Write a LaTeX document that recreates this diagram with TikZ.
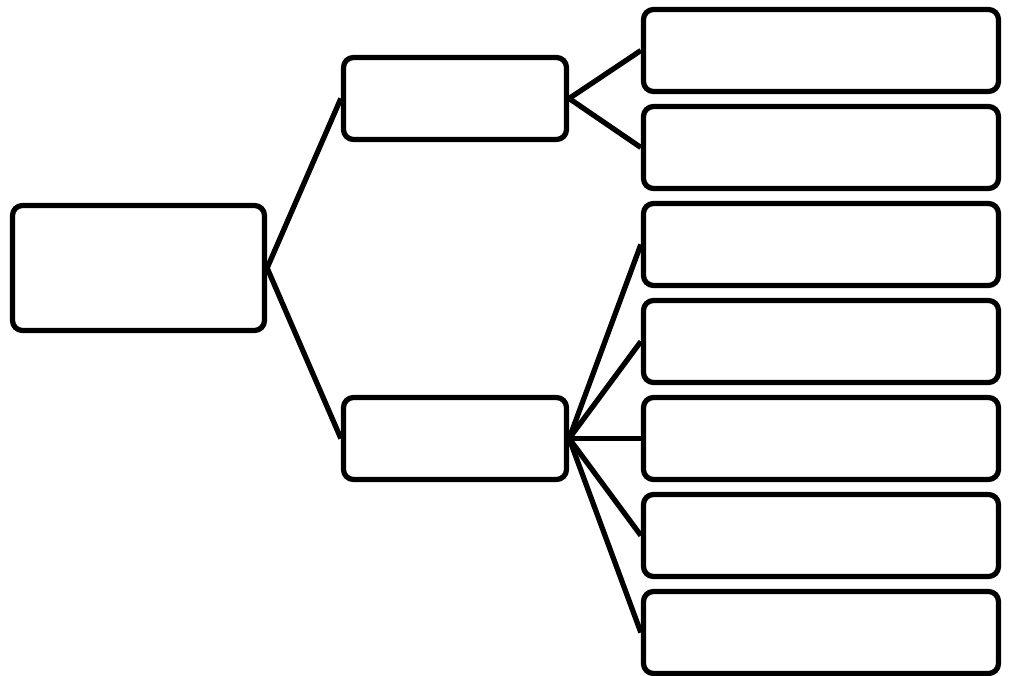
\documentclass[tikz,border=0pt]{standalone}
\begin{document}
\begin{tikzpicture}[
  scale=1.0,
  box/.style={draw,rounded corners=0.2cm,line width=3pt,inner sep=0pt},
  rootbox/.style={box,minimum width=5.04cm,minimum height=2.5cm},
  midbox/.style={box,minimum width=4.46cm,minimum height=1.64cm},
  leafbox/.style={box,minimum width=7.1cm,minimum height=1.64cm},
  link/.style={line width=3pt},
]
  \useasboundingbox (0,0) rectangle (20.22,-13.52);

  % Left: root
  \node[rootbox] (root) at (2.77,-5.36) {};

  % Middle: two branches
  \node[midbox] (top) at (9.1,-1.97) {};
  \node[midbox] (bot) at (9.1,-8.77) {};

  % Right: leaves
  \node[leafbox] (l1) at (16.42,-1.01) {};
  \node[leafbox] (l2) at (16.42,-2.95) {};
  \node[leafbox] (l3) at (16.42,-4.89) {};
  \node[leafbox] (l4) at (16.42,-6.83) {};
  \node[leafbox] (l5) at (16.42,-8.77) {};
  \node[leafbox] (l6) at (16.42,-10.71) {};
  \node[leafbox] (l7) at (16.42,-12.65) {};

  % root to branches
  \draw[link] (root.east) -- (top.west);
  \draw[link] (root.east) -- (bot.west);

  % top branch to its leaves
  \draw[link] (top.east) -- (l1.west);
  \draw[link] (top.east) -- (l2.west);

  % bottom branch to its leaves
  \draw[link] (bot.east) -- (l3.west);
  \draw[link] (bot.east) -- (l4.west);
  \draw[link] (bot.east) -- (l5.west);
  \draw[link] (bot.east) -- (l6.west);
  \draw[link] (bot.east) -- (l7.west);
\end{tikzpicture}
\end{document}
